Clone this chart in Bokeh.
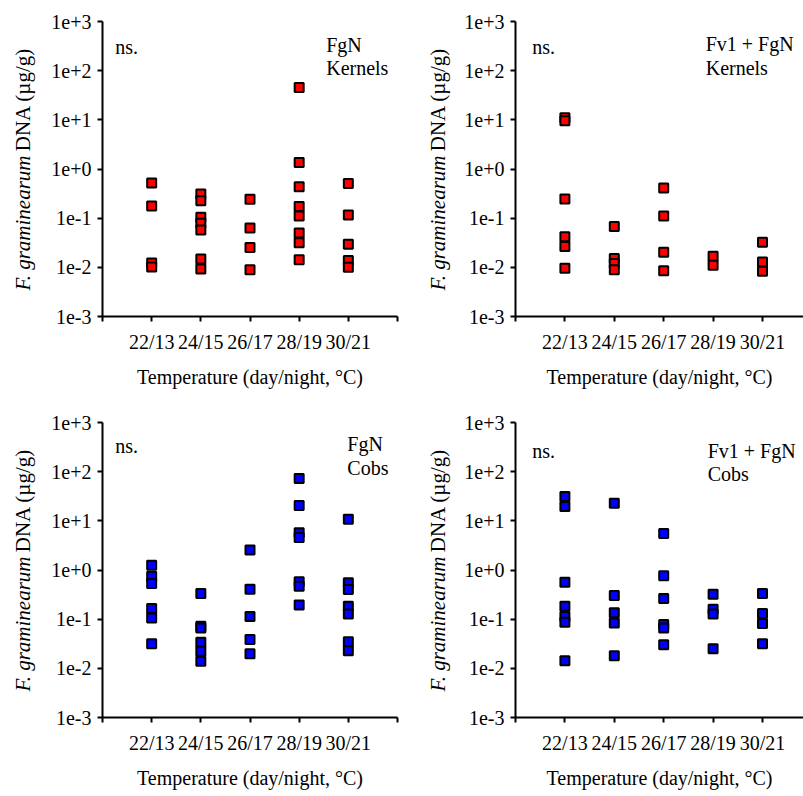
import math
from bokeh.plotting import figure
from bokeh.layouts import row, column
from bokeh.models import Range1d, FixedTicker, Label, CustomJSTickFormatter
from bokeh.embed import file_html
from bokeh.resources import INLINE

# ---------------- data ----------------
temps = ["22/13", "24/15", "26/17", "28/19", "30/21"]
y_ticks = [0.001, 0.01, 0.1, 1, 10, 100, 1000]
y_tick_labels = ["1e-3", "1e-2", "1e-1", "1e+0", "1e+1", "1e+2", "1e+3"]

# FgN, kernels
kern_fgn_temp = ["22/13"] * 4 + ["24/15"] * 7 + ["26/17"] * 4 + ["28/19"] * 8 + ["30/21"] * 5
kern_fgn_dna = [0.52, 0.177, 0.0123, 0.0102,
                0.31, 0.227, 0.104, 0.0785, 0.0575, 0.0148, 0.0093,
                0.242, 0.063, 0.0252, 0.0089,
                45.6, 1.36, 0.438, 0.172, 0.111, 0.050, 0.0318, 0.0142,
                0.51, 0.116, 0.0294, 0.0137, 0.010]

# Fv1 + FgN, kernels
kern_fv1_temp = ["22/13"] * 6 + ["24/15"] * 4 + ["26/17"] * 4 + ["28/19"] * 2 + ["30/21"] * 3
kern_fv1_dna = [11.0, 9.6, 0.246, 0.042, 0.0264, 0.0096,
                0.068, 0.0151, 0.012, 0.0089,
                0.411, 0.111, 0.0202, 0.0085,
                0.0168, 0.011,
                0.0324, 0.0129, 0.0083]

# FgN, cobs
cobs_fgn_temp = ["22/13"] * 6 + ["24/15"] * 6 + ["26/17"] * 5 + ["28/19"] * 7 + ["30/21"] * 7
cobs_fgn_dna = [1.25, 0.75, 0.53, 0.165, 0.106, 0.0315,
                0.333, 0.072, 0.066, 0.034, 0.0223, 0.014,
                2.54, 0.407, 0.113, 0.0386, 0.0197,
                72.6, 20.5, 5.7, 4.58, 0.58, 0.469, 0.195,
                10.8, 0.548, 0.40, 0.184, 0.128, 0.0346, 0.0227]

# Fv1 + FgN, cobs
cobs_fv1_temp = ["22/13"] * 7 + ["24/15"] * 5 + ["26/17"] * 6 + ["28/19"] * 4 + ["30/21"] * 4
cobs_fv1_dna = [31.3, 19.6, 0.565, 0.184, 0.113, 0.087, 0.0142,
                22.9, 0.303, 0.135, 0.084, 0.018,
                5.52, 0.762, 0.263, 0.078, 0.066, 0.030,
                0.323, 0.16, 0.127, 0.0249,
                0.333, 0.130, 0.082, 0.0315]

FONT = "Liberation Serif"
FS = "20px"
LAB_W_L = 45   # label strip for left-hand panels
LAB_W_R = 56   # label strip for right-hand panels


def make_ylabel_fig(lab_w, height, top, bottom, cx):
    """Narrow figure holding the rotated y-axis title; its frame matches the panel's frame."""
    f = figure(width=lab_w, height=height, output_backend="svg", toolbar_location=None,
               title=None, y_axis_type="log",
               x_range=Range1d(0, lab_w), y_range=Range1d(0.001, 1000),
               x_axis_location=None, y_axis_location=None,
               min_border_left=0, min_border_right=0,
               min_border_top=top, min_border_bottom=bottom)
    f.outline_line_color = None
    f.xgrid.visible = False
    f.ygrid.visible = False
    f.add_layout(Label(x=cx, y=10 ** -2.47, text="F. graminearum", angle=math.pi / 2,
                       text_align="left", text_baseline="middle", text_font=FONT,
                       text_font_style="italic", text_font_size="21px", text_color="black"))
    f.add_layout(Label(x=cx, y=10 ** 2.47, text="DNA (µg/g)", angle=math.pi / 2,
                       text_align="right", text_baseline="middle", text_font=FONT,
                       text_font_size="21px", text_color="black"))
    return f


def make_panel(temp, dna, color, title_lines, width, height, left, right, top, bottom,
               x_end, ns_pos, title_pos, title_gap):
    p = figure(width=width, height=height, output_backend="svg", toolbar_location=None,
               title=None, y_axis_type="log",
               x_range=Range1d(0, x_end), y_range=Range1d(0.001, 1000),
               min_border_left=left, min_border_right=right,
               min_border_top=top, min_border_bottom=bottom)
    p.outline_line_color = None
    p.xgrid.visible = False
    p.ygrid.visible = False
    p.background_fill_color = "white"
    p.border_fill_color = "white"

    xs = [temps.index(t) + 1 for t in temp]
    p.scatter(xs, dna, marker="square", size=9, fill_color=color,
              line_color="black", line_width=2)

    p.axis.axis_line_width = 2
    p.axis.axis_line_color = "black"
    p.axis.major_tick_line_width = 2
    p.axis.major_tick_line_color = "black"
    p.axis.major_tick_out = 5
    p.axis.major_tick_in = 0
    p.axis.minor_tick_line_color = None
    p.axis.major_label_text_font = FONT
    p.axis.major_label_text_font_size = FS
    p.axis.major_label_text_font_style = "normal"
    p.axis.major_label_text_color = "black"

    p.yaxis.ticker = FixedTicker(ticks=y_ticks, minor_ticks=[])
    p.yaxis.formatter = CustomJSTickFormatter(
        args=dict(vals=y_ticks, labs=y_tick_labels),
        code="""
        let best = 0, d = Infinity;
        for (let i = 0; i < vals.length; i++) {
            const e = Math.abs(Math.log10(vals[i]) - Math.log10(tick));
            if (e < d) { d = e; best = i; }
        }
        return labs[best];
        """)
    p.yaxis.major_label_standoff = 6

    xt = list(range(0, len(temps) + 2))
    p.xaxis.ticker = FixedTicker(ticks=xt, minor_ticks=[])
    p.xaxis.formatter = CustomJSTickFormatter(
        args=dict(labs=temps),
        code="""
        const i = Math.round(tick) - 1;
        return (i >= 0 && i < labs.length) ? labs[i] : "";
        """)
    p.xaxis.major_label_standoff = 9
    p.xaxis.axis_label = "Temperature (day/night, °C)"
    p.xaxis.axis_label_text_font = FONT
    p.xaxis.axis_label_text_font_style = "normal"
    p.xaxis.axis_label_text_font_size = FS
    p.xaxis.axis_label_text_color = "black"
    p.xaxis.axis_label_standoff = 10

    p.add_layout(Label(x=ns_pos[0], y=10 ** ns_pos[1], text="ns.", text_align="left",
                       text_baseline="middle", text_font=FONT, text_font_size=FS,
                       text_color="black"))
    for k, line in enumerate(title_lines):
        p.add_layout(Label(x=title_pos[0], y=10 ** (title_pos[1] - k * title_gap), text=line,
                           text_align="left", text_baseline="middle", text_font=FONT,
                           text_font_size=FS, text_color="black"))
    return p


l1 = make_ylabel_fig(LAB_W_L, 400, 21, 84, 22)
p1 = make_panel(kern_fgn_temp, kern_fgn_dna, "#ff0000", ["FgN", "Kernels"],
                400 - LAB_W_L, 400, 102 - LAB_W_L, 3, 21, 84, 6.0, (0.26, 2.486),
                (4.55, 2.527), 0.468)
l2 = make_ylabel_fig(LAB_W_R, 400, 21, 84, 37)
p2 = make_panel(kern_fv1_temp, kern_fv1_dna, "#ff0000", ["Fv1 + FgN", "Kernels"],
                403 - LAB_W_R, 400, 115 - LAB_W_R, 0, 21, 84, 5.83, (0.34, 2.486),
                (3.85, 2.547), 0.488)
l3 = make_ylabel_fig(LAB_W_L, 396, 22, 79, 22)
p3 = make_panel(cobs_fgn_temp, cobs_fgn_dna, "#0000ff", ["FgN", "Cobs"],
                400 - LAB_W_L, 396, 102 - LAB_W_L, 3, 22, 79, 6.0, (0.26, 2.526),
                (4.98, 2.567), 0.488)
l4 = make_ylabel_fig(LAB_W_R, 396, 22, 79, 37)
p4 = make_panel(cobs_fv1_temp, cobs_fv1_dna, "#0000ff", ["Fv1 + FgN", "Cobs"],
                403 - LAB_W_R, 396, 115 - LAB_W_R, 0, 22, 79, 5.83, (0.34, 2.424),
                (3.89, 2.424), 0.467)

layout = column(row(l1, p1, l2, p2), row(l3, p3, l4, p4))

open("out.html", "w").write(file_html(layout, INLINE))
